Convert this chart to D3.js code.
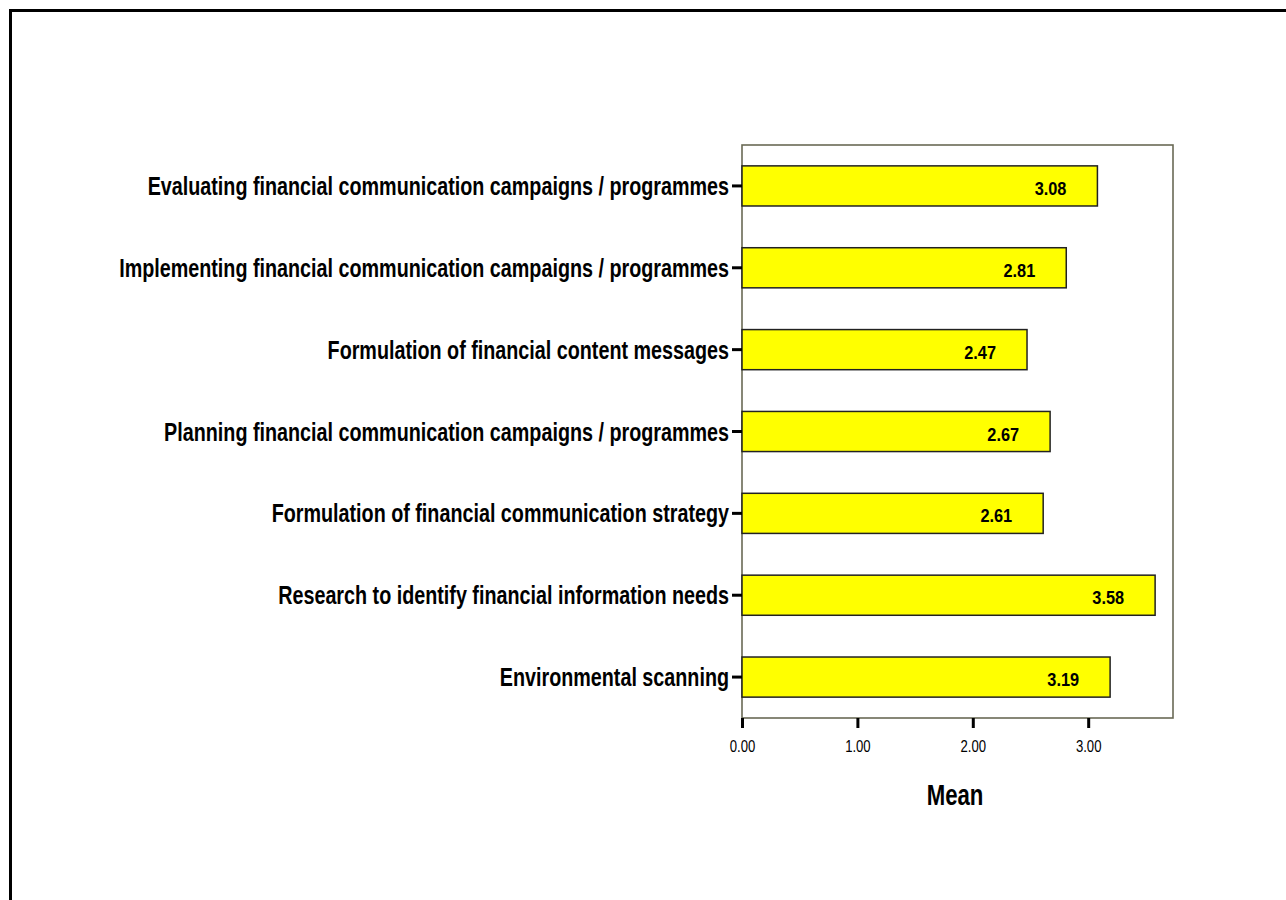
<!DOCTYPE html>
<html>
<head>
<meta charset="utf-8">
<script src="https://cdn.jsdelivr.net/npm/d3@7"></script>
<style>
  html, body { margin: 0; padding: 0; background: #fff; }
  svg { display: block; }
</style>
</head>
<body>
<script>
// Activity categories, listed top to bottom
const categories = [
  "Evaluating financial communication campaigns / programmes",
  "Implementing financial communication campaigns / programmes",
  "Formulation of financial content messages",
  "Planning financial communication campaigns / programmes",
  "Formulation of financial communication strategy",
  "Research to identify financial information needs",
  "Environmental scanning"
];
// Mean score for each category
const means = [3.08, 2.81, 2.47, 2.67, 2.61, 3.58, 3.19];
// X axis tick values
const xTicks = [0, 1, 2, 3];
const xTitle = "Mean";

const W = 1286, H = 900;
const plot = { left: 742, top: 145, right: 1173, bottom: 718 };
const FONT = "'Liberation Sans', Arial, sans-serif";
// horizontal squeeze that gives the narrow lettering
const NARROW = 0.79;

const svg = d3.select("body").append("svg").attr("width", W).attr("height", H)
  .style("font-family", FONT);

// outer frame (open on right and bottom)
svg.append("path")
  .attr("d", `M10.5,${H + 5} L10.5,10.5 L${W + 5},10.5`)
  .attr("fill", "none").attr("stroke", "#000").attr("stroke-width", 3);

const x = d3.scaleLinear().domain([0, 3.735]).range([plot.left, plot.right]);
const y = d3.scaleBand().domain(categories).range([plot.top, plot.bottom]).paddingInner(0.51).paddingOuter(0.255);

// plot area frame
svg.append("rect")
  .attr("x", plot.left).attr("y", plot.top)
  .attr("width", plot.right - plot.left).attr("height", plot.bottom - plot.top)
  .attr("fill", "none").attr("stroke", "#6a6a55").attr("stroke-width", 1.6);

// bars
const data = categories.map((c, i) => ({ c, v: means[i] }));
svg.append("g").selectAll("rect").data(data).join("rect")
  .attr("x", x(0)).attr("y", d => y(d.c))
  .attr("width", d => x(d.v) - x(0)).attr("height", y.bandwidth())
  .attr("fill", "#ffff00").attr("stroke", "#222").attr("stroke-width", 1.5);

// value labels inside bars
svg.append("g").selectAll("text").data(data).join("text")
  .attr("transform", d => `translate(${x(d.v) - 31},${y(d.c) + y.bandwidth() / 2 + 9}) scale(0.86,1)`)
  .attr("text-anchor", "end")
  .attr("font-size", 19).attr("font-weight", "bold").attr("fill", "#000")
  .text(d => d.v.toFixed(2));

// y axis: ticks and category labels
const yAxis = svg.append("g").attr("transform", `translate(${plot.left},0)`)
  .call(d3.axisLeft(y).tickSize(10).tickPadding(3));
yAxis.select(".domain").remove();
yAxis.selectAll(".tick line").attr("stroke", "#000").attr("stroke-width", 3);
yAxis.selectAll(".tick text")
  .attr("font-size", 25).attr("font-weight", "bold").attr("fill", "#000")
  .attr("dy", null).attr("y", 9)
  .attr("x", -13 / NARROW)
  .attr("transform", `scale(${NARROW},1)`);

// x axis
const xAxis = svg.append("g").attr("transform", `translate(0,${plot.bottom})`)
  .call(d3.axisBottom(x).tickValues(xTicks).tickFormat(d3.format(".2f")).tickSize(10).tickPadding(8));
xAxis.select(".domain").remove();
xAxis.selectAll(".tick line").attr("stroke", "#000").attr("stroke-width", 3);
xAxis.selectAll(".tick text")
  .attr("font-size", 16).attr("fill", "#000")
  .attr("dy", null).attr("y", 34)
  .attr("transform", "scale(0.82,1)");

svg.append("text")
  .attr("transform", `translate(955,805) scale(0.74,1)`)
  .attr("text-anchor", "middle")
  .attr("font-size", 30).attr("font-weight", "bold").attr("fill", "#000")
  .text(xTitle);
</script>
</body>
</html>
